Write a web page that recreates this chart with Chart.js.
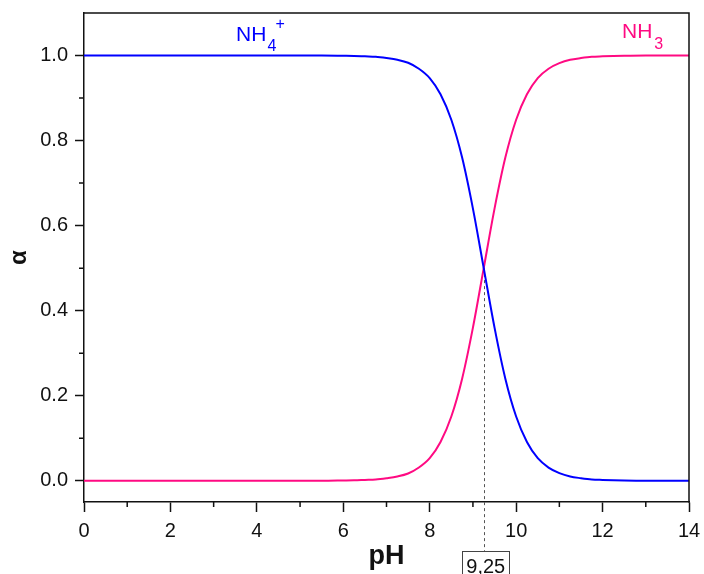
<!DOCTYPE html>
<html><head><meta charset="utf-8">
<script src="https://cdn.jsdelivr.net/npm/chart.js@4"></script>
<style>html,body{margin:0;padding:0;background:#fff}#wrap{width:704px;height:574px}</style>
</head><body><div id="wrap"><canvas id="c" width="704" height="574"></canvas></div>
<script>
// pH values sampled along the curves
const pH = [0, 1, 2, 3, 4, 5, 5.5, 6, 6.25, 6.5, 6.75, 7, 7.25, 7.5, 7.75, 8, 8.25, 8.5, 8.75, 9, 9.25, 9.5, 9.75, 10, 10.25, 10.5, 10.75, 11, 11.25, 11.5, 11.75, 12, 12.5, 13, 14];
// fraction of NH4+ (blue)
const alphaNH4 = [1, 1, 1, 1, 1, 1, 1, 0.9994, 0.999, 0.998, 0.997, 0.994, 0.990, 0.983, 0.969, 0.947, 0.909, 0.849, 0.760, 0.640, 0.500, 0.360, 0.240, 0.151, 0.091, 0.053, 0.031, 0.018, 0.010, 0.006, 0.003, 0.002, 0.0006, 0, 0];
// fraction of NH3 (pink)
const alphaNH3 = [0, 0, 0, 0, 0, 0, 0, 0.0006, 0.001, 0.002, 0.003, 0.006, 0.010, 0.017, 0.031, 0.053, 0.091, 0.151, 0.240, 0.360, 0.500, 0.640, 0.760, 0.849, 0.909, 0.947, 0.969, 0.982, 0.990, 0.994, 0.997, 0.998, 0.9994, 1, 1];
const xMajorTicks = [0, 2, 4, 6, 8, 10, 12, 14];
const xMinorTicks = [1, 3, 5, 7, 9, 11, 13];
const yMajorTicks = [0, 0.2, 0.4, 0.6, 0.8, 1.0];
const yMinorTicks = [0.1, 0.3, 0.5, 0.7, 0.9];
const pKa = 9.25;
const pKaLabel = '9,25';
const seriesNames = ['NH4+', 'NH3'];

const FONT = "'Liberation Sans', Arial, sans-serif";
const AX = '#111';
const BLUE = '#0000ff';
const PINK = '#ff0a82';

const decor = {
  id: 'decor',
  beforeDatasetsDraw(chart) {
    const ctx = chart.ctx, xs = chart.scales.x, ys = chart.scales.y;
    const px = xs.getPixelForValue(pKa), py = ys.getPixelForValue(0.5);
    ctx.save();
    ctx.strokeStyle = '#555';
    ctx.lineWidth = 1;
    ctx.setLineDash([3, 3]);
    ctx.beginPath();
    ctx.moveTo(Math.round(px) + 0.5, py);
    ctx.lineTo(Math.round(px) + 0.5, 551);
    ctx.stroke();
    ctx.restore();
  },
  afterDraw(chart) {
    const ctx = chart.ctx, a = chart.chartArea, xs = chart.scales.x, ys = chart.scales.y;
    ctx.save();
    ctx.strokeStyle = AX;
    ctx.lineWidth = 1.5;
    ctx.beginPath();
    ctx.moveTo(a.left - 0.75, a.top);
    ctx.lineTo(a.right, a.top);
    ctx.lineTo(a.right, a.bottom + 0.75);
    ctx.stroke();
    ctx.beginPath();
    xMinorTicks.forEach(v => {
      const x = xs.getPixelForValue(v);
      ctx.moveTo(x, a.bottom);
      ctx.lineTo(x, a.bottom + 5);
    });
    yMinorTicks.forEach(v => {
      const y = ys.getPixelForValue(v);
      ctx.moveTo(a.left, y);
      ctx.lineTo(a.left - 5, y);
    });
    ctx.stroke();
    ctx.textAlign = 'left';
    ctx.textBaseline = 'alphabetic';
    let x = xs.getPixelForValue(3.52), y = ys.getPixelForValue(1.034);
    ctx.fillStyle = BLUE;
    ctx.font = '21px ' + FONT;
    ctx.fillText('NH', x, y);
    let w = ctx.measureText('NH').width;
    ctx.font = '16px ' + FONT;
    ctx.fillText('4', x + w + 1, y + 10);
    ctx.fillText('+', x + w + 9, y - 12);
    x = xs.getPixelForValue(12.45); y = ys.getPixelForValue(1.041);
    ctx.fillStyle = PINK;
    ctx.font = '21px ' + FONT;
    ctx.fillText('NH', x, y);
    w = ctx.measureText('NH').width;
    ctx.font = '16px ' + FONT;
    ctx.fillText('3', x + w + 2, y + 11);
    const px = xs.getPixelForValue(pKa);
    ctx.font = '20px ' + FONT;
    ctx.fillStyle = '#111';
    const tw = ctx.measureText(pKaLabel).width;
    const bw = tw + 8;
    ctx.strokeStyle = '#444';
    ctx.lineWidth = 1;
    ctx.strokeRect(Math.round(px - bw / 2 + 2) + 0.5, 551.5, Math.round(bw), 30);
    ctx.textAlign = 'center';
    ctx.fillText(pKaLabel, px + 2, 573);
    ctx.restore();
  }
};

new Chart(document.getElementById('c'), {
  type: 'line',
  data: {
    datasets: [
      { label: seriesNames[0], data: pH.map((v, i) => ({ x: v, y: alphaNH4[i] })), borderColor: BLUE, borderWidth: 2, pointRadius: 0, cubicInterpolationMode: 'monotone', fill: false },
      { label: seriesNames[1], data: pH.map((v, i) => ({ x: v, y: alphaNH3[i] })), borderColor: PINK, borderWidth: 2, pointRadius: 0, cubicInterpolationMode: 'monotone', fill: false }
    ]
  },
  options: {
    responsive: false,
    animation: false,
    devicePixelRatio: 1,
    layout: { padding: { top: 13, right: 15, left: 0, bottom: 0 } },
    plugins: { legend: { display: false }, tooltip: { enabled: false } },
    scales: {
      x: {
        type: 'linear', min: 0, max: 14,
        afterBuildTicks: s => { s.ticks = xMajorTicks.map(v => ({ value: v })); },
        afterFit: s => { s.height = 72; s.paddingLeft = 0; s.paddingRight = 0; },
        grid: { display: true, drawOnChartArea: false, drawTicks: true, tickLength: 10, tickWidth: 1.5, tickColor: AX },
        border: { display: true, color: AX, width: 1.5 },
        ticks: { font: { family: FONT, size: 20 }, color: AX, padding: 7, maxRotation: 0, autoSkip: false, callback: v => String(v) },
        title: { display: true, text: 'pH', color: AX, font: { family: FONT, size: 27, weight: 'bold' }, padding: { top: 0, bottom: 1 } }
      },
      y: {
        type: 'linear', min: -0.05, max: 1.1,
        afterBuildTicks: s => { s.ticks = yMajorTicks.map(v => ({ value: v })); },
        afterFit: s => { s.width = 84; s.paddingTop = 0; s.paddingBottom = 0; },
        grid: { display: true, drawOnChartArea: false, drawTicks: true, tickLength: 9, tickWidth: 1.5, tickColor: AX },
        border: { display: true, color: AX, width: 1.5 },
        ticks: { font: { family: FONT, size: 20 }, color: AX, padding: 7, callback: v => v.toFixed(1) },
        title: { display: true, text: 'α', color: AX, font: { family: FONT, size: 24, weight: 'bold' }, padding: { top: 5, bottom: 0 } }
      }
    }
  },
  plugins: [decor]
});
</script>
</body></html>
